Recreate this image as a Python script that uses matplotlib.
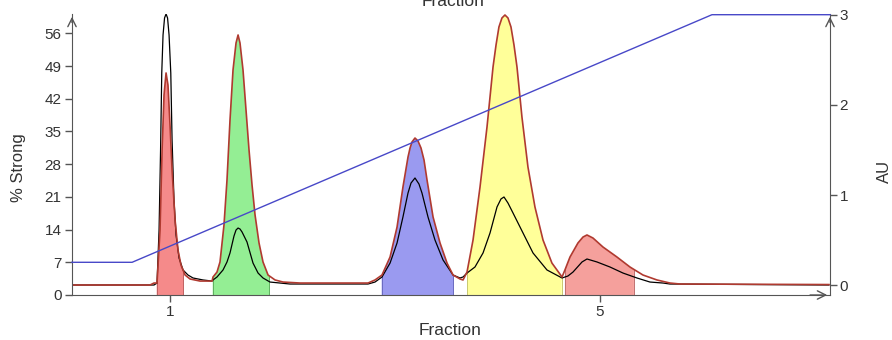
import numpy as np
import matplotlib
matplotlib.use("Agg")
import matplotlib.pyplot as plt

plt.rcParams['font.family'] = ['Liberation Sans', 'DejaVu Sans']

# --- UV trace (AU) versus fraction ---
red_frac = [0.088, 0.814, 0.851, 0.879, 0.907, 0.926, 0.944, 0.963, 0.981, 1.000,
            1.019, 1.047, 1.074, 1.102, 1.140, 1.186, 1.279, 1.391,
            1.400, 1.437, 1.465, 1.502, 1.530, 1.558, 1.586, 1.614, 1.633,
            1.651, 1.679, 1.707, 1.735, 1.763, 1.791, 1.828, 1.865, 1.912, 1.977,
            2.051, 2.209, 2.842, 2.907, 2.972, 3.047, 3.112, 3.167, 3.214, 3.233,
            3.251, 3.279, 3.307, 3.335, 3.363, 3.391, 3.447, 3.512, 3.577, 3.633,
            3.698, 3.726, 3.763, 3.819, 3.884, 3.949, 4.005, 4.033, 4.060, 4.088,
            4.116, 4.144, 4.172, 4.200, 4.228, 4.274, 4.330, 4.395, 4.470, 4.553,
            4.647, 4.674, 4.721, 4.795, 4.842, 4.879, 4.935, 5.028, 5.158, 5.279,
            5.400, 5.530, 5.651, 5.744, 7.130]
red_au = [0.0, 0.0, 0.022, 0.022, 0.611, 1.500, 2.111, 2.356, 2.222, 1.778,
          1.278, 0.722, 0.389, 0.222, 0.111, 0.067, 0.044, 0.044,
          0.089, 0.144, 0.256, 0.667, 1.167, 1.833, 2.389, 2.689, 2.778,
          2.689, 2.389, 1.944, 1.500, 1.111, 0.778, 0.467, 0.256, 0.111, 0.056,
          0.033, 0.022, 0.022, 0.056, 0.111, 0.311, 0.644, 1.089, 1.422, 1.522,
          1.589, 1.633, 1.600, 1.522, 1.389, 1.167, 0.756, 0.467, 0.244, 0.111,
          0.067, 0.056, 0.144, 0.500, 1.089, 1.756, 2.422, 2.667, 2.867, 2.967,
          3.000, 2.967, 2.867, 2.667, 2.422, 1.867, 1.311, 0.867, 0.500, 0.244,
          0.089, 0.167, 0.311, 0.467, 0.533, 0.556, 0.522, 0.422, 0.311, 0.200,
          0.111, 0.056, 0.022, 0.011, 0.005]

# --- second detector trace (AU) ---
blk_frac = [0.088, 0.851, 0.879, 0.898, 0.912, 0.923, 0.935, 0.949, 0.963, 0.977,
            0.991, 1.007, 1.019, 1.037, 1.056, 1.084, 1.121, 1.167, 1.214, 1.307,
            1.391, 1.400, 1.437, 1.493, 1.530, 1.558, 1.595, 1.614, 1.633, 1.651,
            1.670, 1.716, 1.772, 1.819, 1.865, 1.930, 2.116, 2.842, 2.907, 2.972,
            3.047, 3.112, 3.167, 3.214, 3.242, 3.279, 3.316, 3.344, 3.400, 3.465,
            3.540, 3.633, 3.698, 3.726, 3.763, 3.837, 3.912, 3.977, 4.042, 4.079,
            4.107, 4.144, 4.191, 4.284, 4.377, 4.507, 4.647, 4.702, 4.749, 4.833,
            4.879, 4.972, 5.093, 5.214, 5.344, 5.465, 5.586, 5.651, 7.130]
blk_au = [0.0, 0.0, 0.022, 0.611, 1.500, 2.356, 2.778, 2.967, 3.011, 2.967,
          2.778, 2.356, 1.611, 0.944, 0.556, 0.300, 0.167, 0.111, 0.078, 0.056,
          0.044, 0.056, 0.089, 0.167, 0.256, 0.356, 0.544, 0.611, 0.633, 0.622,
          0.589, 0.478, 0.244, 0.133, 0.078, 0.033, 0.011, 0.011, 0.033, 0.089,
          0.244, 0.467, 0.756, 1.022, 1.133, 1.189, 1.122, 1.022, 0.756, 0.500,
          0.278, 0.111, 0.078, 0.089, 0.133, 0.200, 0.356, 0.578, 0.867, 0.956,
          0.978, 0.911, 0.800, 0.578, 0.356, 0.167, 0.078, 0.100, 0.144, 0.256,
          0.289, 0.256, 0.200, 0.133, 0.078, 0.033, 0.022, 0.011, 0.0]

# --- gradient (% Strong) ---
grad_frac = [0.088, 0.647, 6.042, 7.140]
grad_pct = [7, 7, 60, 60]

# --- collected peak windows (fraction) ---
peak_start = [0.876, 1.397, 2.969, 3.766, 4.674]
peak_end = [1.121, 1.924, 3.635, 4.644, 5.316]
peak_colors = ['#F58A8A', '#94EE94', '#9A9AF0', '#FFFF99', '#F5A09C']
peak_edges = ['#C06060', '#60B060', '#6A6AC0', '#C8C870', '#C07070']

x_ticks = [1, 5]
pct_ticks = [0, 7, 14, 21, 28, 35, 42, 49, 56]
au_ticks = [0, 1, 2, 3]

axis_col = '#555555'
text_col = '#333333'

fig = plt.figure(figsize=(8.92, 3.40), dpi=100)
ax = fig.add_axes([72 / 892, 45 / 340, 758 / 892, 281 / 340])
ax2 = ax.twinx()

ax.set_xlim(0.088, 7.14)
ax.set_ylim(0, 60.15)
ax2.set_ylim(-0.111, 3.011)

rf = np.array(red_frac)
ra = np.array(red_au)
base = ax2.get_ylim()[0]
for a, b, fc, ec in zip(peak_start, peak_end, peak_colors, peak_edges):
    inside = (rf > a) & (rf < b)
    xs = np.concatenate([[a], rf[inside], [b]])
    ys = np.concatenate([[np.interp(a, rf, ra)], ra[inside], [np.interp(b, rf, ra)]])
    ax2.fill_between(xs, base, ys, facecolor=fc, edgecolor='none', zorder=1)
    for xe, ye in ((a, ys[0]), (b, ys[-1])):
        ax2.plot([xe, xe], [base, ye], color=ec, lw=0.7, zorder=1.5)

ax2.plot(blk_frac, blk_au, color='#000000', lw=0.9, zorder=2)
ax2.plot(red_frac, red_au, color='#B03A30', lw=1.2, zorder=3)

# gradient line drawn above the traces
ax.plot(grad_frac, grad_pct, color='#4848C8', lw=1.0, zorder=4, clip_on=False)
ax.set_zorder(ax2.get_zorder() + 1)
ax.patch.set_visible(False)

for s in ('top', 'right'):
    ax.spines[s].set_visible(False)
for s in ('top', 'left', 'bottom'):
    ax2.spines[s].set_visible(False)
for s in ('left', 'bottom'):
    ax.spines[s].set_color(axis_col)
ax2.spines['right'].set_color(axis_col)

ax.set_xticks(x_ticks)
ax.set_yticks(pct_ticks)
ax2.set_yticks(au_ticks)
ax.tick_params(axis='both', colors=axis_col, labelcolor=text_col, labelsize=11,
               length=5, width=1, pad=2.5)
ax2.tick_params(axis='y', colors=axis_col, labelcolor=text_col, labelsize=11,
                length=5, width=1, pad=2)

# arrow heads at the axis ends
arrow = dict(arrowstyle='->,head_length=0.6,head_width=0.3', color=axis_col, lw=1)
ax.annotate('', xy=(0, 1.0), xytext=(0, 0.96), xycoords='axes fraction', arrowprops=arrow)
ax.annotate('', xy=(1, 1.0), xytext=(1, 0.96), xycoords='axes fraction', arrowprops=arrow)
ax.annotate('', xy=(1.0, 0), xytext=(0.97, 0), xycoords='axes fraction', arrowprops=arrow)

fig.text(19 / 892, 1 - 168 / 340, '% Strong', rotation=90, ha='center', va='center',
         fontsize=12, color=text_col)
fig.text(884 / 892, 1 - 171 / 340, 'AU', rotation=90, ha='center', va='center',
         fontsize=12, color=text_col)
fig.text(450 / 892, 5 / 340, 'Fraction', ha='center', va='baseline',
         fontsize=12.5, color=text_col)
fig.text(453 / 892, 1 - 6 / 340, 'Fraction', ha='center', va='baseline',
         fontsize=12.5, color=text_col)

fig.savefig('out.png', dpi=100)
